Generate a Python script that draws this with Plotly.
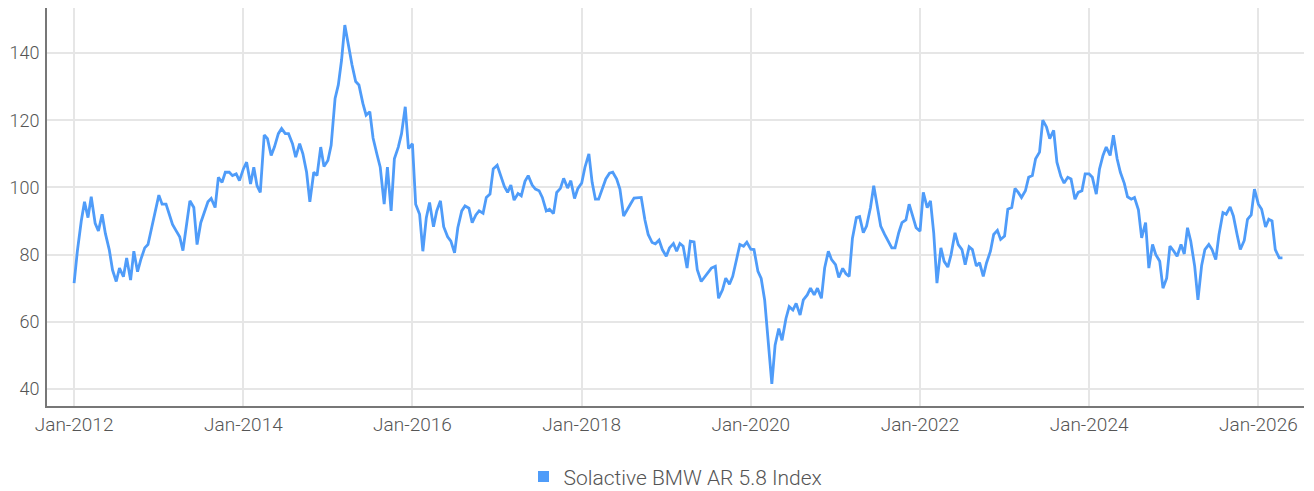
import pandas as pd
import plotly.graph_objects as go

series_name = "Solactive BMW AR 5.8 Index"

# semi-monthly observation dates (1st and 15th of each month)
dates = pd.date_range("2012-01-01", "2026-04-15", freq="SMS")

values = [
    71.5, 81, 90, 95.7, 91, 97.2, 89.3, 87, 92, 86.3,
    81.4, 75.4, 72, 76, 73.4, 79, 72.4, 81, 74.9, 78.5,
    82, 83, 88, 92.5, 97.7, 95, 95, 92, 89, 87.3,
    85.3, 81.2, 89.5, 96, 94, 83, 89.5, 92.5, 95.7, 96.7,
    94, 103, 101.5, 104.5, 104.5, 103.5, 104, 102, 105.5, 107.5,
    101, 106, 100.5, 98.5, 115.6, 114.5, 109.5, 112, 116, 117.5,
    116, 116, 113, 109, 113, 110, 104.5, 95.7, 104.5, 103.5,
    112, 106.2, 108, 112.5, 126.5, 130.5, 137.9, 148.3, 141.5, 136.5,
    131.5, 130.5, 125, 121.5, 122.5, 114.7, 109.8, 106, 95, 106,
    93, 108.5, 112, 116, 124, 111.5, 113, 95, 92, 81,
    91, 95.5, 88.3, 93, 96, 88.3, 85.3, 84, 80.5, 88,
    93, 94.5, 93.8, 89.5, 91.8, 93, 92.3, 97, 98, 105.5,
    106.6, 103.5, 100.3, 98.5, 100.7, 96.2, 98.2, 97.5, 101.8, 103.5,
    100.7, 99.5, 99, 97, 93, 93.5, 92.2, 98.5, 99.7, 102.7,
    99.8, 102, 96.7, 99.6, 101.3, 106, 110, 101.5, 96.5, 96.5,
    99.5, 102.5, 104.2, 104.5, 102.5, 99.5, 91.5, 93, 95.2, 96.8,
    97, 97, 90.3, 86, 83.6, 83.2, 84.3, 81.5, 79.5, 82,
    83.3, 81, 83.3, 82.5, 76, 84, 83.8, 75.5, 72, 73.3,
    74.5, 76, 76.5, 67.0, 69.5, 73, 71.2, 73.5, 78.7, 83,
    82.5, 83.7, 81.6, 81.5, 75, 72.9, 66.5, 55, 41.5, 53,
    58, 54.5, 61, 64.5, 63.5, 65.5, 62, 66.5, 68, 70,
    68, 70, 67, 76, 81, 78.5, 77, 73.2, 75.9, 74.3,
    73.5, 84.8, 91, 91.3, 86.5, 88.5, 94, 100.5, 94.5, 88.5,
    86, 84.3, 82, 82, 86.5, 89.5, 90.3, 95, 91.5, 88,
    87, 98.5, 94, 96, 86.5, 71.5, 82, 78, 76.3, 80,
    86.5, 83, 81.5, 77, 82.3, 81.5, 76.6, 77.6, 73.5, 77.5,
    81, 86, 87.2, 84.5, 85.5, 93.5, 94, 99.7, 98.5, 97,
    99, 103, 103.5, 108.5, 110.5, 120, 118, 114.5, 117, 107.5,
    103.3, 101.3, 103, 102.5, 96.5, 98.5, 99, 104, 104, 103,
    98, 105.5, 109.5, 112, 109.5, 115.5, 108.5, 104.5, 101.2, 97.2,
    96.5, 97, 93.3, 85, 89.5, 76, 83, 80, 78, 70,
    73, 82.5, 81, 79.5, 83, 80.2, 88, 84, 76.5, 66.5,
    76.8, 81.5, 83, 81.5, 78.5, 86, 92.5, 92, 94.2, 91.5,
    86, 81.5, 84.2, 90.5, 91.8, 99.5, 95, 93.5, 88.2, 90.5,
    90, 81.5, 79, 79,
]

y_ticks = [40, 60, 80, 100, 120, 140]
x_ticks = ["2012-01-01", "2014-01-01", "2016-01-01", "2018-01-01",
           "2020-01-01", "2022-01-01", "2024-01-01", "2026-01-01"]
x_tick_labels = ["Jan-2012", "Jan-2014", "Jan-2016", "Jan-2018",
                 "Jan-2020", "Jan-2022", "Jan-2024", "Jan-2026"]

n = min(len(dates), len(values))
line_color = "#4f9cf9"
text_color = "#555555"
font_family = "Roboto, 'Open Sans', sans-serif"

fig = go.Figure()
fig.add_trace(go.Scatter(
    x=dates[:n], y=values[:n], mode="lines",
    line=dict(color=line_color, width=2.8),
    name=series_name, showlegend=False,
))
fig.add_trace(go.Scatter(
    x=[None], y=[None], mode="markers",
    marker=dict(symbol="square", size=11, color=line_color),
    name=series_name, showlegend=True,
))

fig.update_layout(
    width=1306, height=483,
    margin=dict(l=39, r=10, t=0, b=85, autoexpand=False),
    plot_bgcolor="white", paper_bgcolor="white",
    font=dict(family=font_family, size=19, color=text_color, weight=300),
    legend=dict(orientation="h", x=0.5, xanchor="center", y=-0.178, yanchor="middle",
                font=dict(size=21, color=text_color, family=font_family, weight=300),
                itemwidth=30),
    xaxis=dict(
        range=["2011-09-06", "2026-07-17"],
        tickvals=x_ticks, ticktext=x_tick_labels,
        showgrid=True, gridcolor="#e6e6e6", gridwidth=2,
        showline=True, linecolor="#777777", linewidth=2,
        ticks="", zeroline=False, automargin=False,
        tickfont=dict(size=19, color=text_color),
    ),
    yaxis=dict(
        range=[34.94, 153.39],
        tickvals=y_ticks,
        showgrid=True, gridcolor="#e6e6e6", gridwidth=2,
        showline=True, linecolor="#777777", linewidth=2,
        ticks="", zeroline=False, automargin=False,
        tickfont=dict(size=18, color=text_color),
        ticklabelstandoff=2,
    ),
    hovermode="x",
)

fig.write_html("out.html")
